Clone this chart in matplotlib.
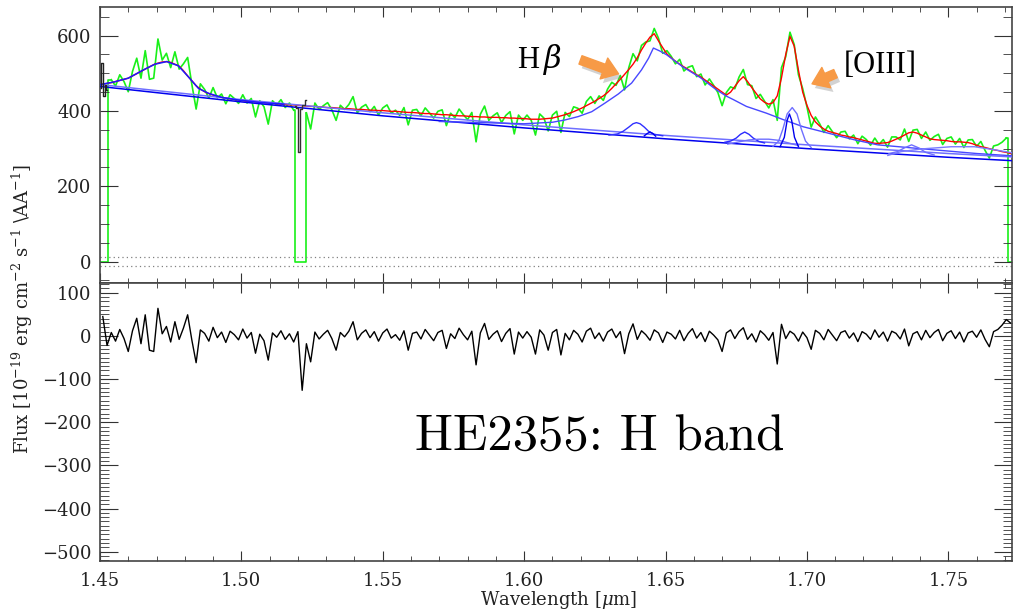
import numpy as np
import matplotlib
matplotlib.use('Agg')
import matplotlib.pyplot as plt
from matplotlib.ticker import MultipleLocator
import matplotlib.patheffects as pe

plt.rcParams['font.family'] = 'DejaVu Serif'
plt.rcParams['mathtext.fontset'] = 'dejavuserif'

# Spectrum pixel grid (micron)
wave = np.round(1.451 + 0.0015 * np.arange(215), 4)

# Total fit (red)
model = np.array([
    471, 473, 475, 478, 481, 484, 487, 493, 499, 505, 511, 517, 523, 527, 530,
    531, 529, 524, 519, 507, 493, 480, 467, 458, 451, 446, 442, 439, 436, 434,
    432, 430, 429, 427, 426, 425, 424, 423, 422, 421, 420, 419, 418, 417, 416,
    416, 415, 414, 413, 412, 412, 411, 410, 409, 409, 408, 407, 406, 406, 405,
    404, 404, 403, 402, 402, 401, 401, 400, 399, 399, 398, 397, 396, 396, 395,
    394, 393, 393, 392, 391, 390, 390, 389, 388, 387, 387, 386, 385, 385, 384,
    384, 383, 383, 383, 382, 382, 381, 381, 380, 380, 379, 378, 378, 378, 379,
    380, 381, 384, 387, 390, 394, 398, 403, 408, 414, 420, 426, 433, 440, 449,
    460, 472, 484, 497, 510, 524, 541, 562, 580, 596, 605, 586, 568, 551, 541,
    532, 524, 517, 510, 503, 496, 490, 482, 474, 466, 458, 450, 442, 450, 465,
    480, 491, 478, 462, 447, 432, 423, 418, 422, 440, 488, 550, 598, 572, 508,
    450, 415, 388, 371, 360, 352, 346, 343, 340, 336, 334, 331, 329, 326, 323,
    320, 317, 314, 314, 315, 316, 320, 325, 330, 336, 342, 344, 341, 336, 331,
    326, 324, 323, 322, 321, 319, 318, 318, 317, 316, 313, 309, 305, 303, 300,
    297, 295, 292, 290, 287], dtype=float)

# Residuals (data - fit)
resid = np.array([
    45, -22, 8, -12, 15, -6, -36, 12, 41, -18, 49, -33, -36, 64, 5,
    22, -14, 33, -8, 18, 49, -10, -62, 14, 6, -12, 20, -4, 9, -15,
    11, 3, -9, 16, -5, 8, -40, 4, -11, -56, 7, -3, 12, -8, 5,
    -14, 10, -126, -18, -60, 9, -7, 4, 13, -6, -33, 8, -2, 11, 33,
    -9, 6, 14, -4, 10, -12, 7, 16, -5, 3, -10, 12, -33, 6, 9,
    -7, 15, 2, -11, 8, 13, -29, 5, -6, 18, 3, -9, 11, -67, 7,
    29, -8, 4, 12, -13, 6, 17, -42, 9, -5, 10, -3, -42, 14, 2,
    -33, 8, 15, -44, 6, -9, 13, 4, -14, 11, 18, -6, 7, -12, 9,
    16, -4, 10, -41, 5, 28, -8, 12, 3, -10, 14, 7, -15, 9, 4,
    -7, 13, -11, 6, 17, -5, 8, -13, 11, 2, -9, -36, 7, 14, -6,
    10, 19, -8, 5, -14, 12, 3, -10, 8, -65, 27, -6, 11, 4, -12,
    9, -4, -31, 13, 6, -9, 15, 2, -11, 8, 12, -5, 7, -13, 10,
    4, -8, 14, -3, 9, -12, 11, 6, -7, 16, -23, 5, 10, -9, 13,
    -4, 8, 15, -11, 6, 12, -6, 9, -14, 7, 11, -3, 14, -8, -25,
    10, 15, 25, 38, 30], dtype=float)

# wavelength ranges where the data were masked (set to zero)
mask_ranges = [(1.4500, 1.4528), (1.5188, 1.5229), (1.7712, 1.7730)]

# masked (original) data drawn in black
bad_wave_1 = [1.4502, 1.4508, 1.4514, 1.4520, 1.4526]
bad_flux_1 = [462, 528, 440, 470, 455]
bad_wave_2 = [1.5190, 1.5198, 1.5205, 1.5212, 1.5220, 1.5228]
bad_flux_2 = [412, 408, 290, 405, 416, 430]

# continua
cont_wave = [1.45, 1.50, 1.55, 1.60, 1.65, 1.70, 1.75, 1.7725]
cont_a = [470, 430, 395, 363, 335, 310, 287, 278]
cont_b = [465, 424, 387, 355, 326, 300, 277, 268]

# FeII-like bump at 1.47
fe_wave = [1.45, 1.455, 1.46, 1.4659, 1.4694, 1.4736, 1.4777, 1.4812, 1.4848,
           1.4883, 1.493, 1.4989, 1.5072, 1.515]
fe_flux = [470, 477, 487, 511, 524, 531, 520, 491, 460, 447, 436, 429, 422, 418]

# broad H-beta
hb_wave = [1.570, 1.585, 1.600, 1.610, 1.6144, 1.6191, 1.6239, 1.6286, 1.6333,
           1.638, 1.6415, 1.644, 1.6457, 1.648, 1.6504, 1.6563, 1.6622, 1.668,
           1.6716, 1.674, 1.6786, 1.6857, 1.6916, 1.6987, 1.7117, 1.717, 1.725,
           1.74, 1.76, 1.7725]
hb_flux = [372, 369, 366, 370, 376, 385, 398, 421, 445, 474, 509, 540, 567, 559,
           549, 516, 489, 456, 439, 430, 412, 394, 377, 358, 333, 323, 310, 300,
           287, 281]

# narrower components
g1_wave = [1.630, 1.633, 1.635, 1.637, 1.6385, 1.6397, 1.641, 1.6425, 1.644, 1.646, 1.649]
g1_flux = [336, 339, 346, 357, 366, 369, 366, 357, 346, 338, 334]
g2_wave = [1.6425, 1.6435, 1.6445, 1.6455, 1.6465]
g2_flux = [334, 340, 344, 340, 333]
g3_wave = [1.671, 1.673, 1.675, 1.6765, 1.678, 1.6795, 1.681, 1.683, 1.685]
g3_flux = [317, 320, 328, 338, 344, 338, 328, 319, 315]
g4_wave = [1.672, 1.676, 1.6795, 1.683, 1.6865, 1.690, 1.6935, 1.697]
g4_flux = [312, 318, 323, 325, 325, 322, 315, 308]
g5_wave = [1.688, 1.690, 1.6915, 1.693, 1.6948, 1.6965, 1.698, 1.6995, 1.7015]
g5_flux = [306, 320, 352, 392, 409, 392, 352, 320, 303]
g6_wave = [1.6905, 1.692, 1.693, 1.6938, 1.6946, 1.6956, 1.697]
g6_flux = [305, 330, 375, 392, 375, 330, 305]
g7_wave = [1.729, 1.732, 1.7345, 1.737, 1.7395, 1.742, 1.745]
g7_flux = [287, 292, 302, 310, 302, 290, 283]
g8_wave = [1.7286, 1.7333, 1.7403, 1.751, 1.7592, 1.7663, 1.7725]
g8_flux = [282, 292, 299, 305, 305, 297, 289]

# data = fit + residual; masked pixels are drawn as zero-level boxes
flux = model + resid
masked = np.zeros(len(wave), dtype=bool)
for lo, hi in mask_ranges:
    masked |= (wave >= lo) & (wave <= hi)
flux_plot = np.where(masked, np.nan, flux)

fig = plt.figure(figsize=(10.15, 6.12), dpi=100)
ax1 = fig.add_axes([0.0985, 0.5368, 0.8985, 0.4512])
ax2 = fig.add_axes([0.0985, 0.0833, 0.8985, 0.4535])

# top panel
green = '#19f019'
ax1.plot(wave, flux_plot, color=green, lw=1.2, zorder=1)
for lo, hi in mask_ranges:
    left = flux[wave < lo]
    right = flux[wave > hi]
    xs, ys = [lo, lo, hi, hi], [0, 0, 0, 0]
    if len(left):
        ys[0] = left[-1]
        xs[0] = wave[wave < lo][-1]
        xs.insert(1, lo)
        ys.insert(1, left[-1])
    if len(right):
        xs += [hi, wave[wave > hi][0]]
        ys += [right[0], right[0]]
    ax1.plot(xs, ys, color=green, lw=1.2, zorder=1)
ax1.axhline(11, color='gray', lw=0.9, ls=(0, (1, 2.5)), zorder=1)
ax1.axhline(-11, color='gray', lw=0.9, ls=(0, (1, 2.5)), zorder=1)
ax1.plot(wave, model, color='red', lw=1.0, zorder=2)
ax1.plot(cont_wave, cont_a, color='#6f6fff', lw=1.1, zorder=3)
ax1.plot(cont_wave, cont_b, color='#0000ee', lw=1.1, zorder=3)
ax1.plot(fe_wave, fe_flux, color='#1a1aff', lw=1.1, zorder=3)
ax1.plot(hb_wave, hb_flux, color='#4848ff', lw=1.0, zorder=3)
for gw, gf, c in [(g1_wave, g1_flux, '#3030ff'), (g2_wave, g2_flux, '#0000ee'),
                  (g3_wave, g3_flux, '#2a2aff'), (g4_wave, g4_flux, '#6f6fff'),
                  (g5_wave, g5_flux, '#6f6fff'), (g6_wave, g6_flux, '#0000ee'),
                  (g7_wave, g7_flux, '#6f6fff'), (g8_wave, g8_flux, '#7a7aff')]:
    ax1.plot(gw, gf, color=c, lw=1.0, zorder=3)
ax1.plot(bad_wave_1, bad_flux_1, drawstyle='steps-mid', color='#222222', lw=1.0, zorder=4)
ax1.plot(bad_wave_2, bad_flux_2, drawstyle='steps-mid', color='#333333', lw=1.0, zorder=4)

ax1.set_xlim(1.45, 1.7725)
ax1.set_ylim(-58, 675)
ax1.yaxis.set_major_locator(MultipleLocator(200))
ax1.yaxis.set_minor_locator(MultipleLocator(50))
ax1.tick_params(labelbottom=False)

# bottom panel
ax2.plot(wave, resid, color='black', lw=1.0)
ax2.set_xlim(1.45, 1.7725)
ax2.set_ylim(-521.6, 121.6)
ax2.yaxis.set_major_locator(MultipleLocator(100))
ax2.yaxis.set_minor_locator(MultipleLocator(10))

for ax in (ax1, ax2):
    ax.xaxis.set_major_locator(MultipleLocator(0.05))
    ax.xaxis.set_minor_locator(MultipleLocator(0.01))
    ax.tick_params(which='both', direction='in', top=True, right=True,
                   color='#333333', labelsize=13, labelcolor='#222222')
    ax.tick_params(axis='y', which='major', length=13, pad=6)
    ax.tick_params(axis='y', which='minor', length=6.5)
    ax.tick_params(axis='x', which='major', length=7, pad=8)
    ax.tick_params(axis='x', which='minor', length=3.6)
    for s in ax.spines.values():
        s.set_linewidth(1.2)
        s.set_color('#444444')

ax2.xaxis.set_major_formatter(plt.FuncFormatter(lambda v, p: f'{v:.2f}'))

fig.text(0.022, 0.495, r'Flux [10$^{-19}$ erg cm$^{-2}$ s$^{-1}$ $\backslash$AA$^{-1}$]',
         rotation=90, ha='center', va='center', fontsize=13, color='#222222')
fig.text(0.55, 1 - 600 / 612, r'Wavelength [$\mu$m]', ha='center', va='center',
         fontsize=13, color='#222222')

# annotations
shadow = [pe.withSimplePatchShadow(offset=(2, -3), shadow_rgbFace='gray', alpha=0.35)]
arrow_style = 'simple,head_length=0.7,head_width=1.0,tail_width=0.4'
ax1.annotate('', xy=(1.6343, 496), xytext=(1.6190, 538),
             arrowprops=dict(arrowstyle=arrow_style, color='#f79a46',
                             mutation_scale=16, path_effects=shadow))
ax1.annotate('', xy=(1.7009, 469), xytext=(1.7110, 502),
             arrowprops=dict(arrowstyle=arrow_style, color='#f79a46',
                             mutation_scale=16, path_effects=shadow))
ax1.text(1.6055, 536, r'H$\,\beta$', fontsize=22, ha='center', va='center',
         family='Liberation Serif')
ax1.text(1.726, 520, '[OIII]', fontsize=22, ha='center', va='center',
         family='Liberation Serif')
ax2.text(1.5613, -237, 'HE2355: H band', fontsize=36.5, ha='left', va='center',
         family='cmr10')

fig.savefig('out.png', dpi=100)
